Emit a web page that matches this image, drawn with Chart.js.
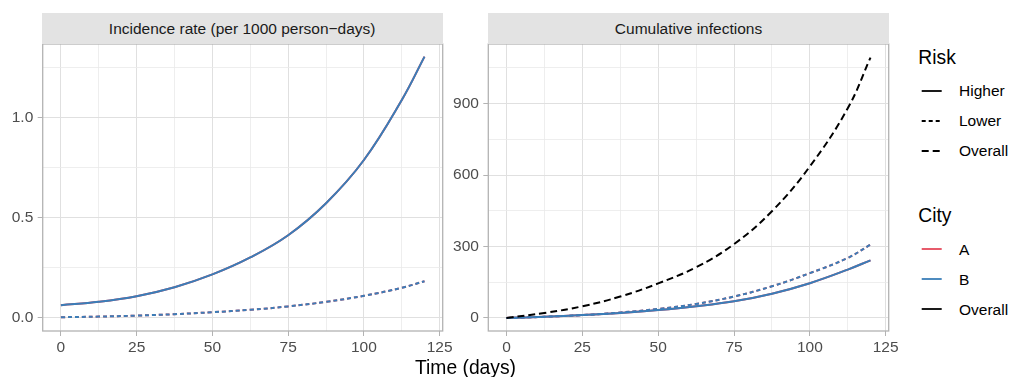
<!DOCTYPE html>
<html>
<head>
<meta charset="utf-8">
<script src="https://cdn.jsdelivr.net/npm/chart.js@4.4.1/dist/chart.umd.min.js"></script>
<style>
html,body{margin:0;padding:0;background:#fff;}
#wrap{position:relative;width:1011px;height:377px;overflow:hidden;font-family:"Liberation Sans",Arial,Helvetica,sans-serif;}
canvas{position:absolute;top:0;}
.strip{position:absolute;top:13px;height:31px;background:#e3e3e3;color:#1a1a1a;font-size:15.5px;display:flex;align-items:center;justify-content:center;white-space:nowrap;}
.txt{position:absolute;white-space:nowrap;line-height:1;}
</style>
</head>
<body>
<div id="wrap">
  <canvas id="c1" width="458" height="377" style="left:0px;width:458px;height:377px"></canvas>
  <canvas id="c2" width="460" height="377" style="left:445px;width:460px;height:377px"></canvas>
  <div class="strip" id="s1" style="left:41.7px;width:401px"></div>
  <div class="strip" id="s2" style="left:488.3px;width:400.4px"></div>
  <div class="txt" id="xtitle" style="font-size:19.3px;color:#000;left:0;width:931px;text-align:center;top:357.5px"></div>
  <div id="legend"></div>
</div>
<script>
// ---------------- data ----------------
const days = [0, 12.5, 25, 37.5, 50, 62.5, 75, 87.5, 100, 112.5, 120];

// Incidence rate (per 1000 person-days)
const incidenceA_higher = [0.063, 0.080, 0.108, 0.153, 0.217, 0.302, 0.413, 0.573, 0.789, 1.089, 1.306];
const incidenceA_lower  = [0.003, 0.006, 0.011, 0.018, 0.028, 0.040, 0.057, 0.080, 0.110, 0.150, 0.183];
const incidenceB_higher = [0.063, 0.080, 0.108, 0.153, 0.217, 0.302, 0.413, 0.573, 0.789, 1.089, 1.306];
const incidenceB_lower  = [0.003, 0.006, 0.011, 0.018, 0.028, 0.040, 0.057, 0.080, 0.110, 0.150, 0.183];

// Cumulative infections
const cumulativeA_higher = [0, 5, 12, 21, 33, 49, 70, 102, 146, 203, 242];
const cumulativeA_lower  = [0, 5, 12, 23, 38, 59, 90, 133, 188, 252, 308];
const cumulativeB_higher = [0, 5, 12, 21, 33, 49, 70, 102, 146, 203, 242];
const cumulativeB_lower  = [0, 5, 12, 23, 38, 59, 90, 133, 188, 252, 308];
const cumulativeOverall  = [0, 21, 49, 90, 145, 213, 310, 448, 636, 880, 1093];

// Ticks
const xTickValues = [0, 25, 50, 75, 100, 125];
const xTickLabels = ['0', '25', '50', '75', '100', '125'];
const xMinorValues = [12.5, 37.5, 62.5, 87.5, 112.5];
const incTickValues = [0, 0.5, 1.0];
const incTickLabels = ['0.0', '0.5', '1.0'];
const incMinorValues = [0.25, 0.75, 1.25];
const cumTickValues = [0, 300, 600, 900];
const cumTickLabels = ['0', '300', '600', '900'];
const cumMinorValues = [150, 450, 750, 1050];

// Text
const panelTitles = ['Incidence rate (per 1000 person\u2212days)', 'Cumulative infections'];
const xAxisTitle = 'Time (days)';
const riskTitle = 'Risk';
const riskLabels = ['Higher', 'Lower', 'Overall'];
const cityTitle = 'City';
const cityLabels = ['A', 'B', 'Overall'];

// ---------------- styles ----------------
const COL_A = '#e5495b';
const COL_B = '#3a7eb8';
const COL_O = '#000000';
const DASH = { Higher: [], Lower: [4, 3], Overall: [7, 4] };
const FONT = '"Liberation Sans", Arial, Helvetica, sans-serif';

document.getElementById('s1').textContent = panelTitles[0];
document.getElementById('s2').textContent = panelTitles[1];
document.getElementById('xtitle').textContent = xAxisTitle;

function pts(arr) { return days.map((d, i) => ({ x: d, y: arr[i] })); }
function ds(label, arr, color, risk, order) {
  return {
    label, data: pts(arr), borderColor: color, borderWidth: 2,
    borderDash: DASH[risk], pointRadius: 0, fill: false,
    tension: 0.4, order, borderCapStyle: 'butt'
  };
}

function isIn(list, v) { return list.some(m => Math.abs(m - v) < 1e-9); }

const panelBorder = {
  id: 'panelBorder',
  afterDraw(chart) {
    const a = chart.chartArea, ctx = chart.ctx;
    ctx.save();
    ctx.strokeStyle = '#b3b3b3';
    ctx.lineWidth = 1.3;
    ctx.strokeRect(a.left, a.top, a.right - a.left, a.bottom - a.top);
    ctx.restore();
  }
};

function makeChart(id, datasets, yMin, yMax, yMajor, yLabels, yMinor, yWidth, padRight) {
  const allY = yMajor.concat(yMinor).sort((a, b) => a - b);
  const allX = xTickValues.concat(xMinorValues).sort((a, b) => a - b);
  const gridColor = (major) => (ctx) => (ctx.tick && isIn(major, ctx.tick.value)) ? '#e0e0e0' : '#eaeaea';
  const gridWidth = (major) => (ctx) => (ctx.tick && isIn(major, ctx.tick.value)) ? 1 : 0.8;
  const tickColor = (major) => (ctx) => (ctx.tick && isIn(major, ctx.tick.value)) ? '#b3b3b3' : 'rgba(0,0,0,0)';
  return new Chart(document.getElementById(id), {
    type: 'line',
    data: { datasets },
    plugins: [panelBorder],
    options: {
      responsive: false, animation: false, devicePixelRatio: 1,
      layout: { padding: { top: 44, right: padRight, left: 0, bottom: 0 } },
      plugins: { legend: { display: false }, tooltip: { enabled: false } },
      scales: {
        x: {
          type: 'linear', min: -6, max: 126,
          afterBuildTicks: s => { s.ticks = allX.map(v => ({ value: v })); },
          afterFit: s => { s.height = 46; },
          grid: { color: gridColor(xTickValues), lineWidth: gridWidth(xTickValues), tickColor: tickColor(xTickValues), tickLength: 5, tickWidth: 1 },
          border: { display: false },
          ticks: {
            autoSkip: false, maxRotation: 0, padding: 2, color: '#4d4d4d',
            font: { family: FONT, size: 15.5 },
            callback: (v) => { const i = xTickValues.findIndex(m => Math.abs(m - v) < 1e-9); return i >= 0 ? xTickLabels[i] : ''; }
          }
        },
        y: {
          type: 'linear', min: yMin, max: yMax,
          afterBuildTicks: s => { s.ticks = allY.map(v => ({ value: v })); },
          afterFit: s => { s.width = yWidth; },
          grid: { color: gridColor(yMajor), lineWidth: gridWidth(yMajor), tickColor: tickColor(yMajor), tickLength: 5, tickWidth: 1 },
          border: { display: false },
          ticks: {
            autoSkip: false, padding: 4.4, color: '#4d4d4d',
            font: { family: FONT, size: 15.5 },
            callback: (v) => { const i = yMajor.findIndex(m => Math.abs(m - v) < 1e-9); return i >= 0 ? yLabels[i] : ''; }
          }
        }
      }
    }
  });
}

makeChart('c1', [
  ds('A Higher', incidenceA_higher, COL_A, 'Higher', 3),
  ds('A Lower', incidenceA_lower, COL_A, 'Lower', 3),
  ds('B Higher', incidenceB_higher, COL_B, 'Higher', 2),
  ds('B Lower', incidenceB_lower, COL_B, 'Lower', 2)
], -0.066, 1.369, incTickValues, incTickLabels, incMinorValues, 42.7, 458 - 442.7);

makeChart('c2', [
  ds('A Higher', cumulativeA_higher, COL_A, 'Higher', 3),
  ds('A Lower', cumulativeA_lower, COL_A, 'Lower', 3),
  ds('B Higher', cumulativeB_higher, COL_B, 'Higher', 2),
  ds('B Lower', cumulativeB_lower, COL_B, 'Lower', 2),
  ds('Overall', cumulativeOverall, COL_O, 'Overall', 1)
], -54.7, 1150, cumTickValues, cumTickLabels, cumMinorValues, 43.3, 460 - 443.7);

// ---------------- legend ----------------
(function () {
  const lg = document.getElementById('legend');
  let html = '';
  function title(t, cy) {
    html += `<div class="txt" style="left:918.3px;top:${cy - 0.49 * 19.3}px;font-size:19.3px;color:#000">${t}</div>`;
  }
  function key(label, cy, color, dash) {
    html += `<svg style="position:absolute;left:918px;top:${cy - 10}px" width="28" height="20"><line x1="3.7" y1="10" x2="23.7" y2="10" stroke="${color}" stroke-width="1.8" stroke-dasharray="${dash.length ? dash.join(',') : 'none'}"/></svg>`;
    html += `<div class="txt" style="left:959px;top:${cy - 0.49 * 15.5}px;font-size:15.5px;color:#000">${label}</div>`;
  }
  title(riskTitle, 57);
  riskLabels.forEach((r, i) => key(r, 90.7 + 30 * i, COL_O, DASH[r]));
  title(cityTitle, 215.5);
  const cityCols = [COL_A, COL_B, COL_O];
  cityLabels.forEach((c, i) => key(c, 249.3 + 30 * i, cityCols[i], []));
  lg.innerHTML = html;
})();
</script>
</body>
</html>
